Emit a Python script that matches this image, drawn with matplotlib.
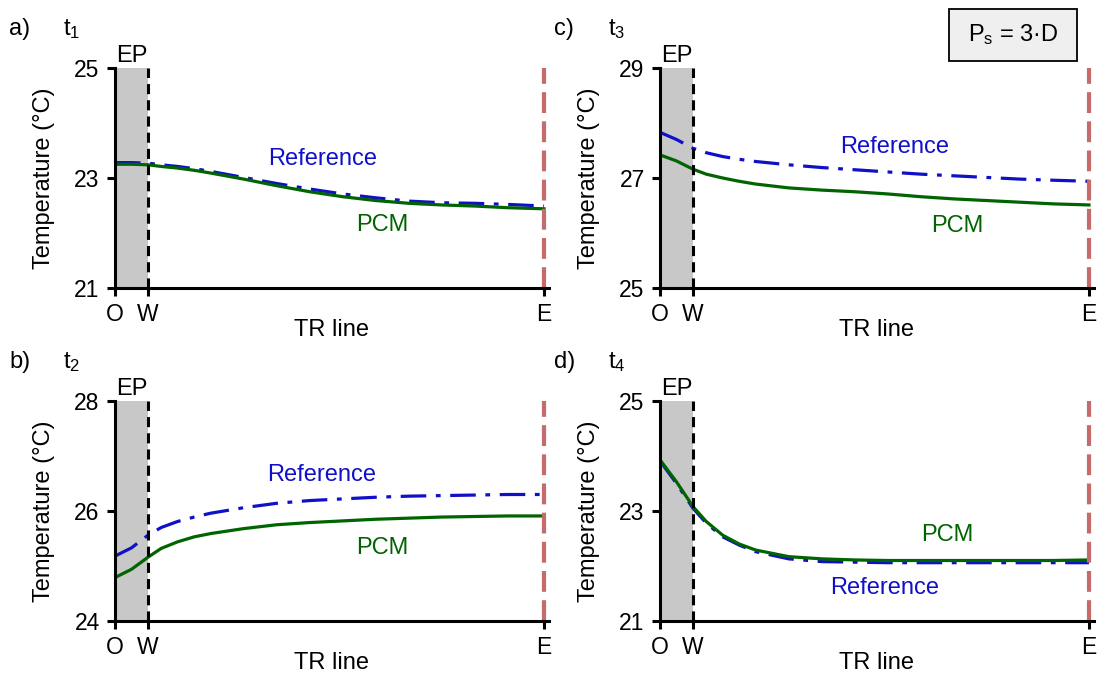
import matplotlib.pyplot as plt
from matplotlib.patches import Rectangle

plt.rcParams['font.family'] = ['Liberation Sans', 'DejaVu Sans']
plt.rcParams['mathtext.default'] = 'regular'
plt.rcParams['font.size'] = 17

# position along the TR line: O = 0, W = 1, E = 13
x = [0, 0.5, 1, 1.4, 1.9, 2.4, 2.9, 3.9, 4.9, 5.9, 6.9, 7.9, 8.9, 9.9, 10.9, 11.9, 13]
x_ticks = [0, 1, 13]
x_labels = ['O', 'W', 'E']

# temperatures (degC)
ref_t1 = [23.28, 23.28, 23.27, 23.24, 23.21, 23.17, 23.12, 23.01, 22.90, 22.80,
          22.71, 22.64, 22.58, 22.55, 22.54, 22.52, 22.49]
pcm_t1 = [23.25, 23.25, 23.24, 23.21, 23.18, 23.14, 23.09, 22.98, 22.86, 22.75,
          22.66, 22.59, 22.54, 22.51, 22.49, 22.46, 22.44]
ref_t2 = [25.18, 25.33, 25.56, 25.70, 25.81, 25.89, 25.96, 26.06, 26.14, 26.19,
          26.22, 26.25, 26.27, 26.28, 26.29, 26.30, 26.30]
pcm_t2 = [24.79, 24.94, 25.16, 25.32, 25.44, 25.53, 25.59, 25.68, 25.75, 25.79,
          25.82, 25.85, 25.87, 25.89, 25.90, 25.91, 25.91]
ref_t3 = [27.83, 27.70, 27.54, 27.46, 27.39, 27.34, 27.30, 27.24, 27.19, 27.15,
          27.11, 27.07, 27.04, 27.01, 26.98, 26.96, 26.94]
pcm_t3 = [27.42, 27.31, 27.16, 27.07, 27.00, 26.94, 26.89, 26.82, 26.78, 26.75,
          26.71, 26.66, 26.62, 26.59, 26.56, 26.53, 26.51]
ref_t4 = [23.91, 23.50, 23.05, 22.78, 22.53, 22.38, 22.26, 22.13, 22.08, 22.07,
          22.06, 22.06, 22.06, 22.06, 22.06, 22.06, 22.06]
pcm_t4 = [23.93, 23.53, 23.08, 22.81, 22.56, 22.40, 22.29, 22.17, 22.13, 22.11,
          22.10, 22.10, 22.10, 22.10, 22.10, 22.10, 22.11]

y_ticks_t1 = [21, 23, 25]
y_ticks_t2 = [24, 26, 28]
y_ticks_t3 = [25, 27, 29]
y_ticks_t4 = [21, 23, 25]

panel_labels = ['a)', 'b)', 'c)', 'd)']
time_labels = ['$t_1$', '$t_2$', '$t_3$', '$t_4$']

blue = '#1010c8'
green = '#006400'
red = '#c66b6b'

W, H = 1102, 680
fig = plt.figure(figsize=(11.02, 6.8), dpi=100)

# (left px, top px) of each panel, then data and label spots
panels = [
    (115, 68, ref_t1, pcm_t1, y_ticks_t1, (6.3, 23.35), (8.1, 22.15)),
    (115, 401, ref_t2, pcm_t2, y_ticks_t2, (6.25, 26.66), (8.1, 25.33)),
    (660, 68, ref_t3, pcm_t3, y_ticks_t3, (7.1, 27.56), (9.0, 26.12)),
    (660, 401, ref_t4, pcm_t4, y_ticks_t4, (6.8, 21.6), (8.7, 22.57)),
]

for i, (lp, tp, ref, pcm, yt, ref_pos, pcm_pos) in enumerate(panels):
    ax = fig.add_axes([lp / W, 1 - (tp + 220) / H, 13.15 * 33 / W, 220 / H])
    ax.set_xlim(0, 13.15)
    ax.set_ylim(yt[0], yt[-1])

    ax.axvspan(0, 1, color='#c8c8c8', lw=0, zorder=0)
    ax.plot(x, ref, color=blue, lw=2.3, dashes=(8, 3, 1.5, 3), zorder=2)
    ax.plot(x, pcm, color=green, lw=2.3, zorder=3)
    ax.axvline(1, color='k', lw=2.2, dashes=(3.3, 2), zorder=4)
    ax.axvline(13, color=red, lw=3, dashes=(5, 2), zorder=4)

    for s in ['top', 'right']:
        ax.spines[s].set_visible(False)
    for s in ['left', 'bottom']:
        ax.spines[s].set_linewidth(2.2)
        ax.spines[s].set_zorder(5)

    ax.set_xticks(x_ticks)
    ax.set_xticklabels(x_labels)
    ax.set_yticks(yt)
    ax.tick_params(width=2.2, length=6, labelsize=16.5, pad=5)
    ax.set_xlabel('TR line', fontsize=17, labelpad=-5)
    ax.set_ylabel('Temperature (°C)', fontsize=17, labelpad=14)

    ax.text(*ref_pos, 'Reference', color=blue, fontsize=17, ha='center', va='center')
    ax.text(*pcm_pos, 'PCM', color=green, fontsize=17, ha='center', va='center')
    ax.annotate('EP', xy=(0.5, 1), xycoords=('data', 'axes fraction'),
                xytext=(0, 1), textcoords='offset points', ha='center', va='bottom',
                fontsize=17)

    fig.text((lp - 106) / W, 1 - (tp - 39) / H, panel_labels[i], fontsize=17,
             ha='left', va='center')
    fig.text((lp - 52) / W, 1 - (tp - 39) / H, time_labels[i], fontsize=17,
             ha='left', va='center')

# parameter box in the top right corner
fig.patches.append(Rectangle((949 / W, 1 - 61 / H), 128 / W, 52 / H,
                             transform=fig.transFigure, facecolor='#efefef',
                             edgecolor='k', lw=1.3))
fig.text(1013 / W, 1 - 35 / H, '$P_s$ = 3·D', fontsize=17, ha='center', va='center')

fig.savefig('out.png', dpi=100)
